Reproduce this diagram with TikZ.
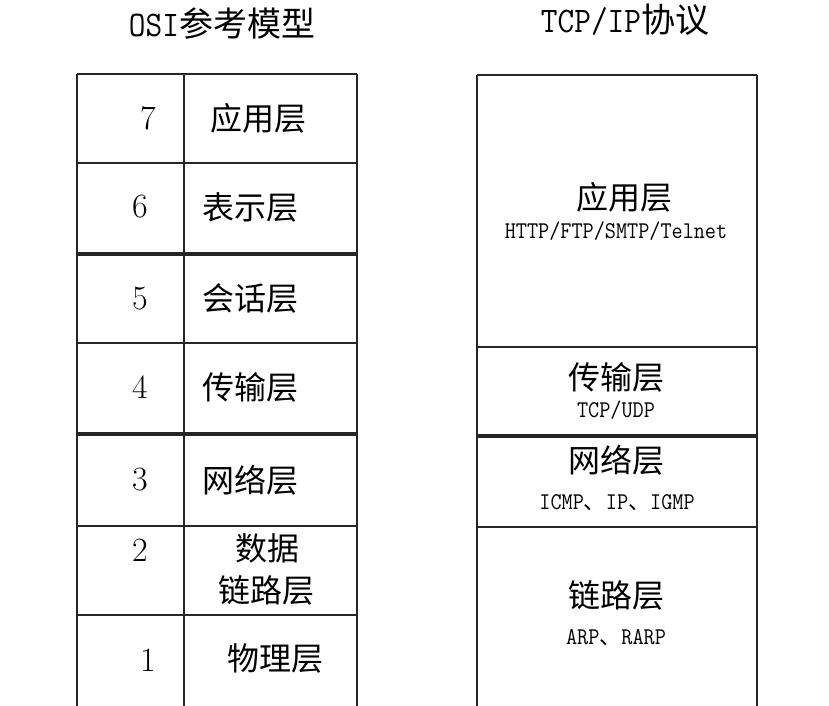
\documentclass[tikz,border=0pt]{standalone}
\usepackage{fontspec}
\newfontfamily\cjk{Noto Sans CJK SC}
\newfontfamily\lmmono{Latin Modern Mono}[FakeStretch=0.9]
\begin{document}
\begin{tikzpicture}[x=1pt,y=-1pt,
  grid/.style={line width=2pt, black!85},
  heavy/.style={line width=3.4pt, black!85},
  cjklabel/.style={font=\cjk\fontsize{32}{36}\selectfont, inner sep=0pt},
  numlabel/.style={font=\fontsize{34}{36}\selectfont, inner sep=0pt},
  titlelabel/.style={font=\fontsize{34}{38}\selectfont, inner sep=0pt},
  proto/.style={font=\lmmono\fontsize{24}{26}\selectfont, inner sep=0pt}]
\useasboundingbox (0,0) rectangle (829,705);
\clip (0,0) rectangle (829,705);
% titles
\node[titlelabel] (osititle) at (222,24) {{\lmmono\fontsize{36}{38}\selectfont OSI}{\cjk 参考模型}};
\node[titlelabel] (tcptitle) at (625,20) {{\lmmono\fontsize{36}{38}\selectfont TCP/IP}{\cjk 协议}};
% left table
\draw[grid] (77,74) -- (357,74);
\draw[grid] (77,74) -- (77,706);
\draw[grid] (184,74) -- (184,706);
\draw[grid] (357,74) -- (357,706);
\draw[grid] (77,163) -- (357,163);
\draw[heavy] (77,254) -- (357,254);
\draw[grid] (77,343) -- (357,343);
\draw[heavy] (77,434) -- (357,434);
\draw[grid] (77,526) -- (357,526);
\draw[grid] (77,615) -- (357,615);
% right table
\draw[grid] (477,75) -- (757,75);
\draw[grid] (477,75) -- (477,706);
\draw[grid] (757,75) -- (757,706);
\draw[grid] (477,347) -- (757,347);
\draw[heavy] (477,436) -- (757,436);
\draw[grid] (477,527) -- (757,527);
% OSI numbers
\node[numlabel] (n7) at (148,118) {7};
\node[numlabel] (n6) at (140,207) {6};
\node[numlabel] (n5) at (140,299) {5};
\node[numlabel] (n4) at (140,387) {4};
\node[numlabel] (n3) at (140,480) {3};
\node[numlabel] (n2) at (140,550) {2};
\node[numlabel] (n1) at (148,660) {1};
% OSI layer names
\node[cjklabel] (l7) at (258,118) {应用层};
\node[cjklabel] (l6) at (250,207) {表示层};
\node[cjklabel] (l5) at (250,298) {会话层};
\node[cjklabel] (l4) at (250,387) {传输层};
\node[cjklabel] (l3) at (250,480) {网络层};
\node[cjklabel] (l2a) at (267,548) {数据};
\node[cjklabel] (l2b) at (266,590) {链路层};
\node[cjklabel] (l1) at (275,658) {物理层};
% TCP/IP layers
\node[cjklabel] (tapp) at (624,197) {应用层};
\node[proto] (tappp) at (616,231) {HTTP/FTP/SMTP/Telnet};
\node[cjklabel] (ttrans) at (616,377) {传输层};
\node[proto] (ttransp) at (616,410) {TCP/UDP};
\node[cjklabel] (tnet) at (616,460) {网络层};
\node[proto] (tnetp) at (617,503) {ICMP{\cjk\fontsize{22}{24}\selectfont 、}IP{\cjk\fontsize{22}{24}\selectfont 、}IGMP};
\node[cjklabel] (tlink) at (616,595) {链路层};
\node[proto] (tlinkp) at (616,638) {ARP{\cjk\fontsize{22}{24}\selectfont 、}RARP};
\end{tikzpicture}
\end{document}
